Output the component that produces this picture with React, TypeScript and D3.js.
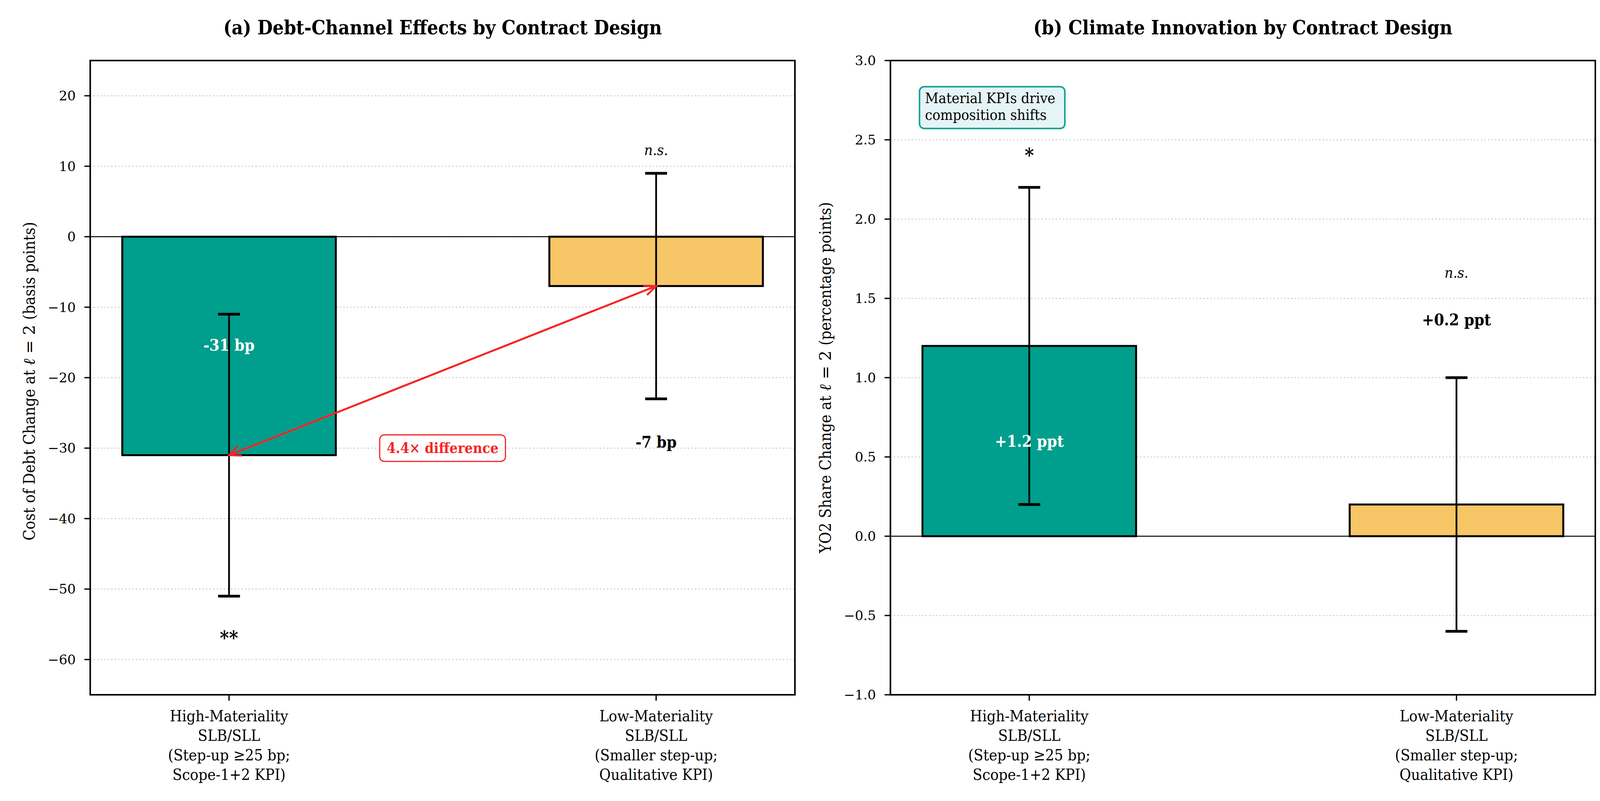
import * as d3 from "d3";

// categories and values
const categories = [
  ["High-Materiality", "SLB/SLL", "(Step-up ≥25 bp;", "Scope-1+2 KPI)"],
  ["Low-Materiality", "SLB/SLL", "(Smaller step-up;", "Qualitative KPI)"],
];
const debtEffect = [-31, -7];
const debtError = [20, 16];
const debtLabels = ["-31 bp", "-7 bp"];
const debtSig = ["**", "n.s."];
const debtTicks = [-60, -50, -40, -30, -20, -10, 0, 10, 20];

const innovEffect = [1.2, 0.2];
const innovError = [1.0, 0.8];
const innovLabels = ["+1.2 ppt", "+0.2 ppt"];
const innovSig = ["*", "n.s."];
const innovTicks = [-1, -0.5, 0, 0.5, 1, 1.5, 2, 2.5, 3];

const barColors = ["#009E8C", "#F6C667"];

const W = 4120;
const H = 2051;
const MAIN = '"DejaVu Serif Condensed", "DejaVu Serif", serif';
const MATH = '"DejaVu Serif", serif';

const minus = (s: string) => s.replace("-", "\u2212");

interface PanelProps {
  box: { left: number; right: number; top: number; bottom: number };
  title: string;
  ylabel: [string, string];
  ylabelOffset: number;
  ylabelShift: number;
  domain: [number, number];
  ticks: number[];
  fmt: (v: number) => string;
  values: number[];
  errors: number[];
  labels: string[];
  sig: string[];
  // where the text goes, in data units relative to bar / error bar ends
  labelPos: (i: number, v: number, e: number) => { y: number; inside: boolean };
  sigPos: (i: number, v: number, e: number) => number;
  sigSize: (s: string) => number;
  children?: (x: d3.ScaleLinear<number, number>, y: d3.ScaleLinear<number, number>) => any;
}

const Panel = ({
  box, title, ylabel, ylabelOffset, ylabelShift, domain, ticks, fmt, values, errors,
  labels, sig, labelPos, sigPos, sigSize, children,
}: PanelProps) => {
  const x = d3.scaleLinear().domain([-0.325, 1.325]).range([box.left, box.right]);
  const y = d3.scaleLinear().domain(domain).range([box.bottom, box.top]);
  const barW = x(0.5) - x(0);
  const cap = 28;
  const cx = (box.left + box.right) / 2;
  const cy = (box.top + box.bottom) / 2 + ylabelShift;

  return (
    <g>
      <text x={cx} y={88} textAnchor="middle" fontFamily={MAIN} fontWeight="bold" fontSize={50}>
        {title}
      </text>

      {/* grid */}
      {ticks.map((t) => (
        <line key={"g" + t} x1={box.left} x2={box.right} y1={y(t)} y2={y(t)}
          stroke="#c4c4c4" strokeWidth={2.5} strokeDasharray="3 6" />
      ))}

      {/* bars */}
      {values.map((v, i) => (
        <rect key={"b" + i} x={x(i) - barW / 2} width={barW}
          y={Math.min(y(v), y(0))} height={Math.abs(y(v) - y(0))}
          fill={barColors[i]} stroke="#000" strokeWidth={5} />
      ))}

      <line x1={box.left} x2={box.right} y1={y(0)} y2={y(0)} stroke="#000" strokeWidth={2.5} />

      {/* error bars */}
      {values.map((v, i) => (
        <g key={"e" + i} stroke="#000">
          <line x1={x(i)} x2={x(i)} y1={y(v - errors[i])} y2={y(v + errors[i])} strokeWidth={4.5} />
          <line x1={x(i) - cap} x2={x(i) + cap} y1={y(v - errors[i])} y2={y(v - errors[i])} strokeWidth={7} />
          <line x1={x(i) - cap} x2={x(i) + cap} y1={y(v + errors[i])} y2={y(v + errors[i])} strokeWidth={7} />
        </g>
      ))}

      {/* value labels */}
      {values.map((v, i) => {
        const p = labelPos(i, v, errors[i]);
        return (
          <text key={"l" + i} x={x(i)} y={y(p.y)} textAnchor="middle" fontFamily={MAIN}
            fontWeight="bold" fontSize={41} fill={p.inside ? "#fff" : "#000"}>
            {labels[i]}
          </text>
        );
      })}

      {/* significance */}
      {values.map((v, i) => (
        <text key={"s" + i} x={x(i)} y={y(sigPos(i, v, errors[i]))} textAnchor="middle"
          fontFamily={MAIN} fontSize={sigSize(sig[i])}
          fontWeight={sig[i] === "n.s." ? "normal" : "bold"}
          fontStyle={sig[i] === "n.s." ? "italic" : "normal"}>
          {sig[i]}
        </text>
      ))}

      {children && children(x, y)}

      {/* spines */}
      <rect x={box.left} y={box.top} width={box.right - box.left} height={box.bottom - box.top}
        fill="none" stroke="#000" strokeWidth={4} />

      {/* y axis */}
      {ticks.map((t) => (
        <g key={"t" + t}>
          <line x1={box.left - 15} x2={box.left} y1={y(t)} y2={y(t)} stroke="#000" strokeWidth={3.3} />
          <text x={box.left - 37} y={y(t)} textAnchor="end" dominantBaseline="central"
            fontFamily={MATH} fontSize={34}>
            {fmt(t)}
          </text>
        </g>
      ))}

      {/* x axis */}
      {categories.map((c, i) => (
        <g key={"c" + i}>
          <line x1={x(i)} x2={x(i)} y1={box.bottom} y2={box.bottom + 15} stroke="#000" strokeWidth={3.3} />
          <text textAnchor="middle" fontFamily={MAIN} fontSize={40}>
            {c.map((line, k) => (
              <tspan key={k} x={x(i)} y={1847 + k * 50}>{line}</tspan>
            ))}
          </text>
        </g>
      ))}

      <text transform={`translate(${box.left - ylabelOffset},${cy}) rotate(-90)`} textAnchor="middle"
        dominantBaseline="central" fontSize={41}>
        <tspan fontFamily={MAIN}>{ylabel[0]}</tspan>
        <tspan fontFamily={MATH} fontStyle="italic">ℓ</tspan>
        <tspan fontFamily={MATH}> = 2 </tspan>
        <tspan fontFamily={MAIN}>{ylabel[1]}</tspan>
      </text>
    </g>
  );
};

const App = () => {
  const boxA = { left: 231, right: 2035, top: 155, bottom: 1779 };
  const boxB = { left: 2279.5, right: 4084, top: 155, bottom: 1779 };

  return (
    <svg width={W} height={H} viewBox={`0 0 ${W} ${H}`}
      style={{ position: "absolute", left: 0, top: 0, background: "#fff" }}>
      <rect width={W} height={H} fill="#fff" />

      <Panel
        box={boxA}
        title="(a) Debt-Channel Effects by Contract Design"
        ylabel={["Cost of Debt Change at ", "(basis points)"]}
        ylabelOffset={156}
        ylabelShift={9}
        domain={[-65, 25]}
        ticks={debtTicks}
        fmt={(v) => minus(d3.format("d")(v))}
        values={debtEffect}
        errors={debtError}
        labels={debtLabels}
        sig={debtSig}
        labelPos={(i, v, e) => (i === 0 ? { y: v / 2 - 0.7, inside: true } : { y: v - e - 6.9, inside: false })}
        sigPos={(i, v, e) => (i === 0 ? v - e - 6.9 : v + e + 2.6)}
        sigSize={(s) => (s === "n.s." ? 38 : 50)}
      >
        {(x, y) => {
          const x1 = x(1), y1 = y(-7), x0 = x(0), y0 = y(-31);
          const ang = Math.atan2(y0 - y1, x0 - x1);
          const head = (px: number, py: number, a: number) => {
            const L = 30, Wd = 13;
            const bx = px - L * Math.cos(a), by = py - L * Math.sin(a);
            const nx = -Math.sin(a), ny = Math.cos(a);
            return `M${bx + nx * Wd},${by + ny * Wd}L${px},${py}L${bx - nx * Wd},${by - ny * Wd}`;
          };
          const bx = x(0.5), by = y(-30);
          return (
            <g>
              <line x1={x1} y1={y1} x2={x0} y2={y0} stroke="#F52525" strokeWidth={5} />
              <path d={head(x0, y0, ang)} fill="none" stroke="#F52525" strokeWidth={5} />
              <path d={head(x1, y1, ang + Math.PI)} fill="none" stroke="#F52525" strokeWidth={5} />
              <rect x={bx - 161} y={by - 34} width={322} height={68} rx={12}
                fill="#fff" stroke="#F52525" strokeWidth={3} />
              <text x={bx} y={by} textAnchor="middle" dominantBaseline="central"
                fontFamily={MAIN} fontWeight="bold" fontSize={37} fill="#F52525">
                4.4× difference
              </text>
            </g>
          );
        }}
      </Panel>

      <Panel
        box={boxB}
        title="(b) Climate Innovation by Contract Design"
        ylabel={["YO2 Share Change at ", "(percentage points)"]}
        ylabelOffset={167}
        ylabelShift={0}
        domain={[-1, 3]}
        ticks={innovTicks}
        fmt={(v) => minus(d3.format(".1f")(v))}
        values={innovEffect}
        errors={innovError}
        labels={innovLabels}
        sig={innovSig}
        labelPos={(i, v, e) => (i === 0 ? { y: v / 2 - 0.035, inside: true } : { y: v + e + 0.33, inside: false })}
        sigPos={(i, v, e) => (i === 0 ? v + e + 0.16 : v + e + 0.63)}
        sigSize={(s) => (s === "n.s." ? 38 : 50)}
      >
        {() => (
          <g>
            <rect x={2354} y={222} width={372} height={107} rx={12}
              fill="#E5F4F7" stroke="#17A398" strokeWidth={4} />
            <text fontFamily={MAIN} fontSize={37.5}>
              <tspan x={2368} y={264}>Material KPIs drive</tspan>
              <tspan x={2368} y={307}>composition shifts</tspan>
            </text>
          </g>
        )}
      </Panel>
    </svg>
  );
};

export default App;
